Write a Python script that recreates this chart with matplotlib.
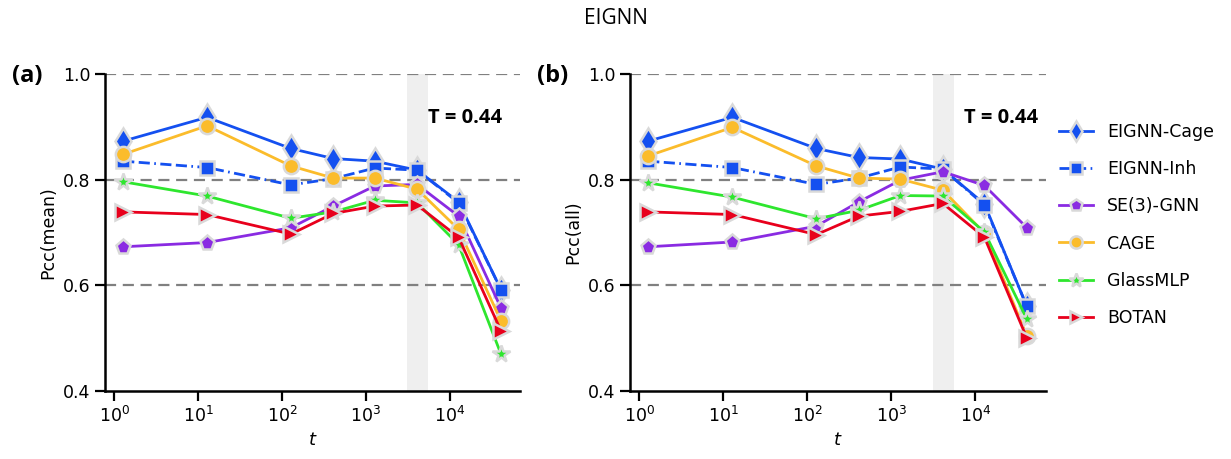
import numpy as np
import matplotlib
matplotlib.use("Agg")
import matplotlib.pyplot as plt

# ============================================================
# Data
# ============================================================

t = [1.28, 12.8, 128, 410, 1280, 4100, 12800, 41000]

models = ["EIGNN-Cage", "EIGNN-Inh", "SE(3)-GNN", "CAGE", "GlassMLP", "BOTAN"]

pcc_mean = {
    "EIGNN-Cage": [0.873, 0.918, 0.859, 0.840, 0.835, 0.818, 0.758, 0.592],
    "EIGNN-Inh":  [0.835, 0.823, 0.790, 0.802, 0.822, 0.818, 0.756, 0.592],
    "SE(3)-GNN":  [0.673, 0.681, 0.709, 0.750, 0.788, 0.791, 0.731, 0.557],
    "CAGE":       [0.848, 0.902, 0.826, 0.803, 0.803, 0.782, 0.706, 0.533],
    "GlassMLP":   [0.796, 0.769, 0.727, 0.739, 0.761, 0.756, 0.677, 0.470],
    "BOTAN":      [0.739, 0.734, 0.697, 0.736, 0.750, 0.752, 0.691, 0.514],
}

pcc_all = {
    "EIGNN-Cage": [0.873, 0.918, 0.859, 0.842, 0.839, 0.820, 0.754, 0.560],
    "EIGNN-Inh":  [0.835, 0.823, 0.791, 0.803, 0.824, 0.820, 0.752, 0.560],
    "SE(3)-GNN":  [0.673, 0.682, 0.712, 0.758, 0.799, 0.815, 0.789, 0.709],
    "CAGE":       [0.845, 0.899, 0.826, 0.803, 0.801, 0.780, 0.699, 0.504],
    "GlassMLP":   [0.794, 0.767, 0.726, 0.742, 0.770, 0.769, 0.701, 0.536],
    "BOTAN":      [0.739, 0.734, 0.696, 0.731, 0.740, 0.755, 0.691, 0.500],
}

# ============================================================
# Styles
# ============================================================

styles = {
    "EIGNN-Cage": dict(color="#1450f0", marker="d", ms=13, ls="-"),
    "EIGNN-Inh":  dict(color="#1450f0", marker="s", ms=10, ls=(0, (4, 1.6, 4, 1.6, 0.6, 1.6))),
    "SE(3)-GNN":  dict(color="#8a2be2", marker="p", ms=11, ls="-"),
    "CAGE":       dict(color="#fbbc2b", marker="o", ms=11, ls="-"),
    "GlassMLP":   dict(color="#2ee62e", marker="*", ms=13, ls="-"),
    "BOTAN":      dict(color="#e8001c", marker=">", ms=11, ls="-"),
}

plt.rcParams["font.family"] = "DejaVu Sans"
plt.rcParams["font.size"] = 12.5

fig = plt.figure(figsize=(12.31, 4.59), dpi=100)

ax_a = fig.add_axes([105 / 1231, 68 / 459, 415 / 1231, 317 / 459])
ax_b = fig.add_axes([630 / 1231, 68 / 459, 416 / 1231, 317 / 459])

panels = [
    (ax_a, pcc_mean, "Pcc(mean)", "(a)", 27, 0.867),
    (ax_b, pcc_all, "Pcc(all)", "(b)", 553, 0.893),
]

for ax, data, ylabel, tag, tag_x, t_x in panels:
    ax.axvspan(3100, 5500, color="#efefef", zorder=0, lw=0)
    for yv in [0.6, 0.8, 1.0]:
        ax.axhline(yv, color="#808080", lw=1.6, ls=(0, (5, 3)), zorder=1)

    for name in models:
        st = styles[name]
        ax.plot(t, data[name], color=st["color"], ls=st["ls"], lw=2,
                marker=st["marker"], markersize=st["ms"],
                markerfacecolor=st["color"], markeredgecolor="#d9d9d9",
                markeredgewidth=1.8, label=name, zorder=3)

    ax.set_xscale("log")
    ax.set_xlim(10 ** -0.11, 10 ** 4.84)
    ax.set_ylim(0.4, 1.0)
    ax.set_yticks([0.4, 0.6, 0.8, 1.0])
    ax.set_xticks([1, 10, 100, 1000, 10000])
    ax.xaxis.set_minor_locator(matplotlib.ticker.NullLocator())
    ax.set_xlabel(r"$t$", fontsize=13)
    ax.set_ylabel(ylabel, fontsize=12.5)

    for side in ["top", "right"]:
        ax.spines[side].set_visible(False)
    for side in ["left", "bottom"]:
        ax.spines[side].set_linewidth(1.8)
    ax.tick_params(width=1.6, length=7, labelsize=12.5)

    ax.text(t_x, 0.861, "T = 0.44", transform=ax.transAxes, ha="center",
            va="center", fontsize=14.5, fontweight="bold", family="Open Sans")

    fig.text(tag_x / 1231, 1 - 76 / 459, tag, ha="center", va="center",
             fontsize=17, fontweight="bold", family="Open Sans")

fig.text(0.5, 1 - 18 / 459, "EIGNN", ha="center", va="center",
         fontsize=15, family="Open Sans")

handles, labels = ax_b.get_legend_handles_labels()
fig.legend(handles, labels, loc="center left",
           bbox_to_anchor=(1043 / 1231, 1 - 225 / 459), frameon=False,
           fontsize=12.5, labelspacing=1.1, handlelength=2.0,
           markerscale=0.8)

fig.savefig("out.png", dpi=100)
